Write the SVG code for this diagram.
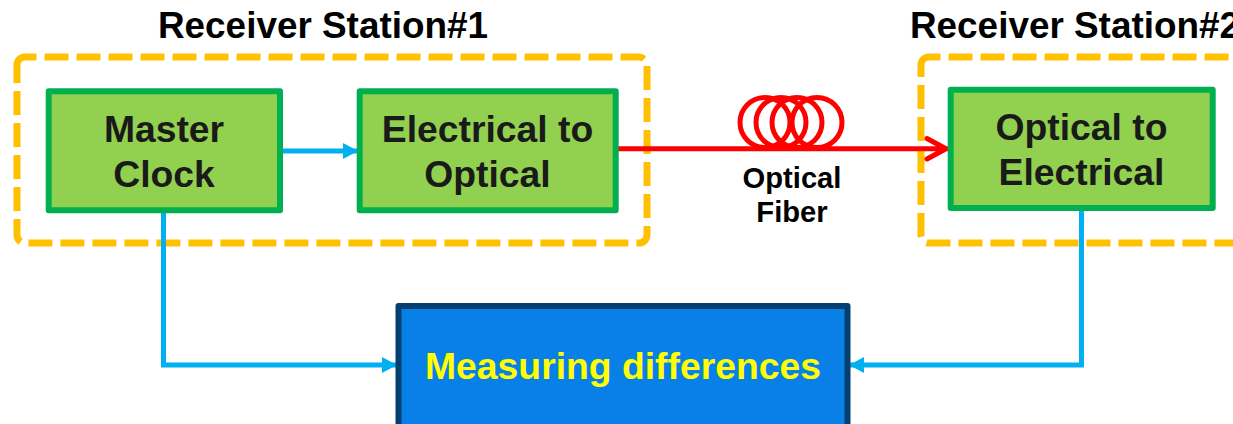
<svg xmlns="http://www.w3.org/2000/svg" width="1233" height="424" viewBox="0 0 1233 424">
<style>
text{font-family:"Liberation Sans",Arial,sans-serif;font-weight:700;text-anchor:middle}
.group{fill:none;stroke:#FFC000;stroke-width:7;stroke-dasharray:24 8}
.box{fill:#92D050;stroke:#00B050;stroke-width:6;stroke-linejoin:round}
.bt{font-size:37.300px;fill:#1a1a1a}
.title{font-size:36.900px;fill:#000}
.small{font-size:29.200px;fill:#000}
.cy{fill:none;stroke:#00B0F0;stroke-width:5}
.red{fill:none;stroke:#FF0000;stroke-width:5}
</style>
<defs>
<marker id="a" markerUnits="userSpaceOnUse" markerWidth="16" markerHeight="18" refX="15" refY="8" orient="auto"><path d="M0,0L15,8L0,16z" fill="#00B0F0"/></marker>
</defs>
<g id="station1">
<path class="group" d="M17,65a8,8 0 0 1 8,-8H639a8,8 0 0 1 8,8V235a8,8 0 0 1 -8,8H25a8,8 0 0 1 -8,-8z"/>
<text class="title" x="323" y="38">Receiver Station#1</text>
</g>
<g id="station2">
<path class="group" d="M921,65a8,8 0 0 1 8,-8H1236a8,8 0 0 1 8,8V235a8,8 0 0 1 -8,8H929a8,8 0 0 1 -8,-8z"/>
<text class="title" x="1075" y="38">Receiver Station#2</text>
</g>
<g id="connectors">
<path class="cy" marker-end="url(#a)" d="M283,151H358"/>
<path class="cy" marker-end="url(#a)" d="M163.500,213V365H397"/>
<path class="cy" marker-end="url(#a)" d="M1081.500,208V365H849"/>
<path class="red" d="M618,148.700H947M927,138.500L946,148.700L927,159" stroke-linecap="round" stroke-linejoin="round"/>
</g>
<g id="fiber">
<circle class="red" cx="765" cy="122.500" r="25"/>
<circle class="red" cx="781" cy="122.500" r="25"/>
<circle class="red" cx="797" cy="122.500" r="25"/>
<circle class="red" cx="817" cy="122.500" r="25"/>
<text class="small" x="792" y="188">Optical</text>
<text class="small" x="792" y="222">Fiber</text>
</g>
<g id="master-clock">
<rect class="box" x="48.700" y="91.300" width="231.300" height="119"/>
<text class="bt" x="164" y="142">Master</text>
<text class="bt" x="164" y="187">Clock</text>
</g>
<g id="electrical-to-optical">
<rect class="box" x="359.700" y="91.300" width="256" height="119"/>
<text class="bt" x="487.500" y="142">Electrical to</text>
<text class="bt" x="487.500" y="187">Optical</text>
</g>
<g id="optical-to-electrical">
<rect class="box" x="950.700" y="89.700" width="262" height="118.300"/>
<text class="bt" x="1081.500" y="140">Optical to</text>
<text class="bt" x="1081.500" y="185">Electrical</text>
</g>
<g id="measuring">
<rect x="398.500" y="306" width="449" height="122" fill="#0880E8" stroke="#03406F" stroke-width="6" stroke-linejoin="round"/>
<text x="623" y="379" font-size="37.300" fill="#FFFF00">Measuring differences</text>
</g>
</svg>
